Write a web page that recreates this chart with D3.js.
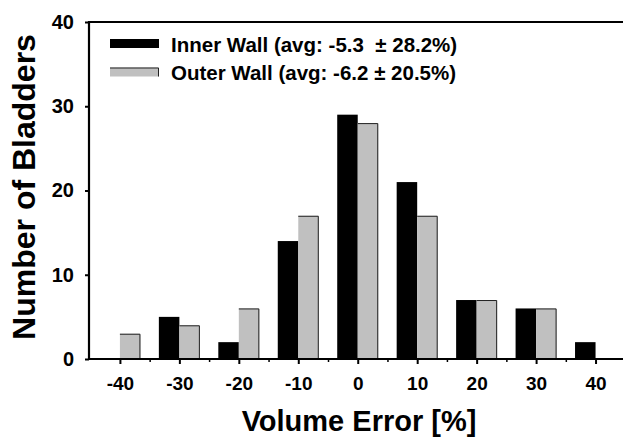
<!DOCTYPE html>
<html>
<head>
<meta charset="utf-8">
<script src="https://cdn.jsdelivr.net/npm/d3@7"></script>
<style>
  body { margin: 0; background: #fff; }
  svg { display: block; font-family: "Liberation Sans", Arial, sans-serif; font-weight: bold; }
  .axis path, .axis line { stroke: #000; }
  .axis text { font-family: "Liberation Sans", Arial, sans-serif; font-weight: bold; fill: #000; }
</style>
</head>
<body>
<div id="chart"></div>
<script>
// bin centres (volume error, %) and counts per wall
const bins = [-40, -30, -20, -10, 0, 10, 20, 30, 40]
const innerWall = [0, 5, 2, 14, 29, 21, 7, 6, 2]
const outerWall = [3, 4, 6, 17, 28, 17, 7, 6, 0]
const xTicks = [-40, -30, -20, -10, 0, 10, 20, 30, 40]
const xMinorTicks = [-35, -25, -15, -5, 5, 15, 25, 35, 45]
const yTicks = [0, 10, 20, 30, 40]
const legendLabels = ["Inner Wall (avg: -5.3  \u00b1 28.2%)", "Outer Wall (avg: -6.2 \u00b1 20.5%)"]

const width = 623,
  height = 438

const svg = d3.select("#chart").append("svg").attr("width", width).attr("height", height)

// plot frame runs past the right edge of the picture
const x = d3.scaleLinear().domain([-45.2, 50]).range([89, 655])
const y = d3.scaleLinear().domain([0, 40]).range([359, 22])
const barW = x(3.45) - x(0)

// bars
svg
  .selectAll(".inner")
  .data(bins)
  .enter()
  .append("rect")
  .attr("class", "inner")
  .attr("x", (d) => x(d) - barW)
  .attr("y", (d, i) => y(innerWall[i]))
  .attr("width", barW)
  .attr("height", (d, i) => y(0) - y(innerWall[i]))
  .attr("fill", "#000")

svg
  .selectAll(".outer")
  .data(bins)
  .enter()
  .append("rect")
  .attr("class", "outer")
  .attr("x", (d) => x(d))
  .attr("y", (d, i) => y(outerWall[i]))
  .attr("width", barW)
  .attr("height", (d, i) => y(0) - y(outerWall[i]))
  .attr("fill", "#c0c0c0")

// thin dark edge on top and right of the grey bars
svg
  .selectAll(".outer-edge")
  .data(bins.filter((d, i) => outerWall[i] > 0))
  .enter()
  .append("path")
  .attr("class", "outer-edge")
  .attr("d", (d) => {
    const i = bins.indexOf(d)
    const x0 = x(d),
      x1 = x(d) + barW,
      y0 = y(outerWall[i]) + 0.5
    return `M${x0},${y0}H${x1 - 0.5}V${y(0)}`
  })
  .attr("fill", "none")
  .attr("stroke", "#222")
  .attr("stroke-width", 1)

// axes (plain hyphen for negatives, like the original)
const plain = (d) => String(d)

const xAxis = svg
  .append("g")
  .attr("class", "axis")
  .attr("transform", `translate(0,${y(0)})`)
  .call(d3.axisBottom(x).tickValues(xTicks).tickFormat(plain).tickSize(5).tickSizeOuter(0).tickPadding(13))
xAxis.select(".domain").remove()
xAxis.selectAll("line").attr("stroke-width", 2)
xAxis.selectAll("text").style("font-size", "19px")

const xMinor = svg
  .append("g")
  .attr("class", "axis")
  .attr("transform", `translate(0,${y(0)})`)
  .call(d3.axisBottom(x).tickValues(xMinorTicks).tickSize(3).tickFormat(""))
xMinor.select(".domain").remove()
xMinor.selectAll("line").attr("stroke-width", 1.5)

const yAxis = svg
  .append("g")
  .attr("class", "axis")
  .attr("transform", `translate(${x(-45.2)},0)`)
  .call(d3.axisLeft(y).tickValues(yTicks).tickFormat(plain).tickSize(4).tickSizeOuter(0).tickPadding(11))
yAxis.select(".domain").remove()
yAxis.selectAll("line").attr("stroke-width", 2)
yAxis.selectAll("text").style("font-size", "20px")

// frame lines: left, bottom, top
svg
  .append("path")
  .attr("d", `M${x(50)},${y(40)}H${x(-45.2)}V${y(0)}H${x(50)}`)
  .attr("fill", "none")
  .attr("stroke", "#000")
  .attr("stroke-width", 2.2)

// axis titles
svg
  .append("text")
  .attr("x", 359)
  .attr("y", 431)
  .attr("text-anchor", "middle")
  .style("font-size", "29px")
  .text("Volume Error [%]")

svg
  .append("text")
  .attr("transform", "translate(35,187) rotate(-90)")
  .attr("text-anchor", "middle")
  .style("font-size", "32px")
  .text("Number of Bladders")

// legend
const legend = svg
  .selectAll(".legend")
  .data(legendLabels)
  .enter()
  .append("g")
  .attr("class", "legend")
  .attr("transform", (d, i) => `translate(110,${39 + i * 28.5})`)

legend
  .append("rect")
  .attr("width", 49)
  .attr("height", 9)
  .attr("fill", (d, i) => (i === 0 ? "#000" : "#c0c0c0"))

legend
  .filter((d, i) => i === 1)
  .append("path")
  .attr("d", "M0,0.5H48.5V9")
  .attr("fill", "none")
  .attr("stroke", "#222")
  .attr("stroke-width", 1)

legend
  .append("text")
  .attr("x", 61)
  .attr("y", 12.5)
  .style("font-size", "20.5px")
  .style("white-space", "pre")
  .text((d) => d)
</script>
</body>
</html>
